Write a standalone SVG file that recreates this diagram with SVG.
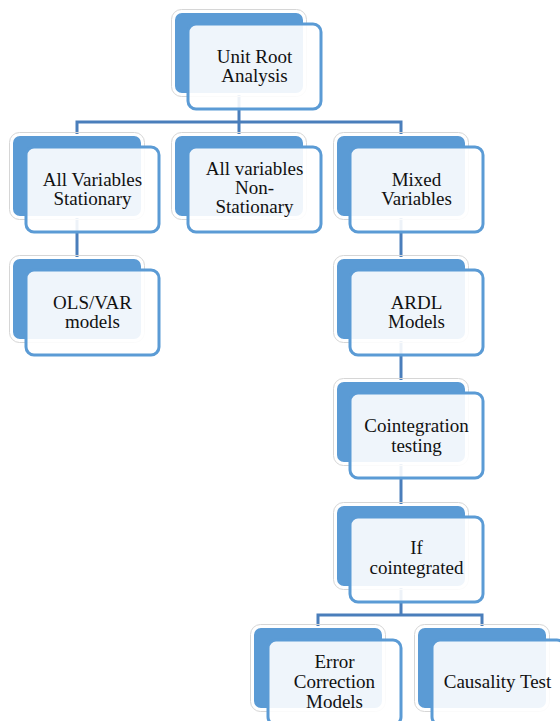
<svg xmlns="http://www.w3.org/2000/svg" width="560" height="721" viewBox="0 0 560 721">
  <style>
    .halo { fill: none; stroke: #d6d6d6; stroke-width: 1; }
    .back { fill: #5B9BD5; stroke: #ffffff; stroke-width: 2; }
    .front { fill: #ffffff; fill-opacity: 0.9; stroke: #5B9BD5; stroke-width: 3; }
    .conn { fill: none; stroke: #4A7EBB; stroke-width: 3; stroke-linejoin: miter; }
    .lbl { font-family: "Liberation Serif", "Times New Roman", serif; font-size: 19px; fill: #111111; text-anchor: middle; }
  </style>

  <!-- connectors (drawn first so the translucent card faces show them faintly) -->
  <g id="connectors">
    <path class="conn" d="M239,92 V122 M77,135 V122 H401 V135 M239,122 V135"/>
    <path class="conn" d="M77,217 V258"/>
    <path class="conn" d="M401,217 V258"/>
    <path class="conn" d="M401,340 V381"/>
    <path class="conn" d="M401,463 V505"/>
    <path class="conn" d="M401,587 V615 M318,627 V615 H482 V627"/>
  </g>

  <g id="unit-root">
    <rect class="halo" x="171.5" y="9.5" width="135" height="87" rx="10"/>
    <rect class="back" x="174" y="12" width="130" height="82" rx="8"/>
    <rect class="front" x="188" y="24" width="133" height="85" rx="8"/>
    <text class="lbl"><tspan x="254.5" y="62.5">Unit Root</tspan><tspan x="254.5" y="82">Analysis</tspan></text>
  </g>

  <g id="all-stationary">
    <rect class="halo" x="9.5" y="132.5" width="135" height="87" rx="10"/>
    <rect class="back" x="12" y="135" width="130" height="82" rx="8"/>
    <rect class="front" x="26" y="147" width="133" height="85" rx="8"/>
    <text class="lbl"><tspan x="92.5" y="185.5">All Variables</tspan><tspan x="92.5" y="205">Stationary</tspan></text>
  </g>

  <g id="all-non-stationary">
    <rect class="halo" x="171.5" y="132.5" width="135" height="87" rx="10"/>
    <rect class="back" x="174" y="135" width="130" height="82" rx="8"/>
    <rect class="front" x="188" y="147" width="133" height="85" rx="8"/>
    <text class="lbl"><tspan x="254.5" y="175">All variables</tspan><tspan x="254.5" y="194">Non-</tspan><tspan x="254.5" y="213">Stationary</tspan></text>
  </g>

  <g id="mixed">
    <rect class="halo" x="333.5" y="132.5" width="135" height="87" rx="10"/>
    <rect class="back" x="336" y="135" width="130" height="82" rx="8"/>
    <rect class="front" x="350" y="147" width="133" height="85" rx="8"/>
    <text class="lbl"><tspan x="416.5" y="185.5">Mixed</tspan><tspan x="416.5" y="205">Variables</tspan></text>
  </g>

  <g id="ols-var">
    <rect class="halo" x="9.5" y="255.5" width="135" height="87" rx="10"/>
    <rect class="back" x="12" y="258" width="130" height="82" rx="8"/>
    <rect class="front" x="26" y="270" width="133" height="85" rx="8"/>
    <text class="lbl"><tspan x="92.5" y="308.5">OLS/VAR</tspan><tspan x="92.5" y="328">models</tspan></text>
  </g>

  <g id="ardl">
    <rect class="halo" x="333.5" y="255.5" width="135" height="87" rx="10"/>
    <rect class="back" x="336" y="258" width="130" height="82" rx="8"/>
    <rect class="front" x="350" y="270" width="133" height="85" rx="8"/>
    <text class="lbl"><tspan x="416.5" y="308.5">ARDL</tspan><tspan x="416.5" y="328">Models</tspan></text>
  </g>

  <g id="cointegration">
    <rect class="halo" x="333.5" y="378.5" width="135" height="87" rx="10"/>
    <rect class="back" x="336" y="381" width="130" height="82" rx="8"/>
    <rect class="front" x="350" y="393" width="133" height="85" rx="8"/>
    <text class="lbl"><tspan x="416.5" y="432">Cointegration</tspan><tspan x="416.5" y="452">testing</tspan></text>
  </g>

  <g id="if-cointegrated">
    <rect class="halo" x="333.5" y="502.5" width="135" height="87" rx="10"/>
    <rect class="back" x="336" y="505" width="130" height="82" rx="8"/>
    <rect class="front" x="350" y="517" width="133" height="85" rx="8"/>
    <text class="lbl"><tspan x="416.5" y="554">If</tspan><tspan x="416.5" y="573.5">cointegrated</tspan></text>
  </g>

  <g id="error-correction">
    <rect class="halo" x="250.5" y="624.5" width="135" height="87" rx="10"/>
    <rect class="back" x="253" y="627" width="130" height="82" rx="8"/>
    <rect class="front" x="268" y="640" width="133" height="85" rx="8"/>
    <text class="lbl"><tspan x="334.5" y="668">Error</tspan><tspan x="334.5" y="688">Correction</tspan><tspan x="334.5" y="708">Models</tspan></text>
  </g>

  <g id="causality">
    <rect class="halo" x="414.5" y="624.5" width="135" height="87" rx="10"/>
    <rect class="back" x="417" y="627" width="130" height="82" rx="8"/>
    <rect class="front" x="432" y="640" width="133" height="85" rx="8"/>
    <text class="lbl"><tspan x="497.5" y="688">Causality Test</tspan></text>
  </g>
</svg>
